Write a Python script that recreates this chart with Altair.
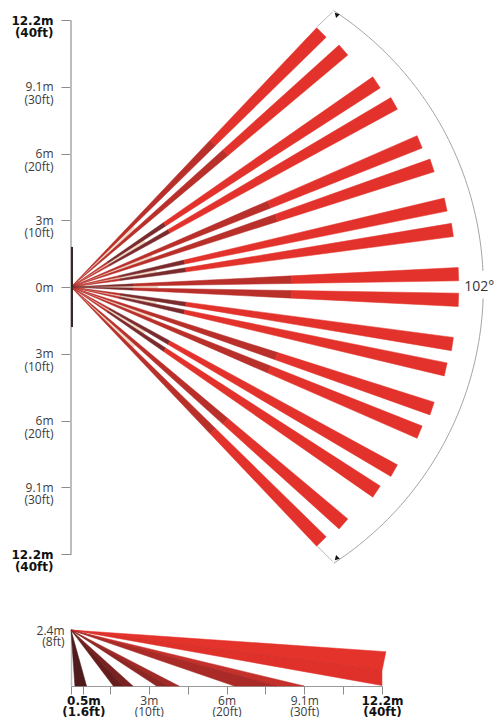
import math
import altair as alt
import pandas as pd

# ---- plan view (feet) ----
RED, BRICK, DARK = "#e3322b", "#b92f2a", "#7a2b2d"
beam_angles = [45.45, 41.0, 33.8, 29.6, 22.6, 18.6, 12.4, 8.5, 1.9]
beam_reach = [53.5, 54.1, 55.1, 55.7, 56.6, 57.1, 57.5, 57.8, 58.1]
beam_zones = [
    [(30.3, BRICK)],
    [(30.7, BRICK)],
    [(6.7, BRICK), (16.9, DARK)],
    [(6.7, BRICK), (16.9, DARK)],
    [(32.2, BRICK)],
    [(32.5, BRICK)],
    [(7.5, BRICK), (17.4, DARK)],
    [(7.5, BRICK), (17.4, DARK)],
    [(9.4, DARK), (33.1, BRICK)],
]
pale_pairs = [(45.45, 41.0), (33.8, 29.6), (22.6, 18.6), (12.4, 8.5), (1.9, -1.9)]
pale_reach = 13.0
tip_half_width = 1.0

plan_ticks = list(range(-40, 41, 5))
plan_labels = {0: ["0m"], 10: ["3m", "(10ft)"], 20: ["6m", "(20ft)"],
               30: ["9.1m", "(30ft)"], 40: ["12.2m", "(40ft)"]}
device_span = [-6.0, 6.0]
axis_span = [-40, 40]

arc_center = 12.4
arc_radius = 49.4
arc_limits = [(2.8, 56.9), (-56.9, -2.0)]
arrow_x = [39.85, 39.85]
arrow_y = [40.75, -40.6]
arrow_rot = [315, 225]
lead_x = [[36.9, 39.2], [36.9, 39.2]]
lead_y = [[39.0, 41.2], [-38.8, -41.1]]
angle_label = "102°"

# ---- side view (feet) ----
side_beams = [
    ("a", [(0, 8), (0.5, 0), (2.0, 0)], "#4e1a1c"),
    ("b1", [(0, 8), (5.44, 0), (6.7, 0)], "#671d1e"),
    ("b2", [(0, 8), (6.7, 0), (7.97, 0)], "#7a2221"),
    ("c1", [(0, 8), (11.0, 0), (12.5, 0)], "#8e2723"),
    ("c2", [(0, 8), (12.5, 0), (13.9, 0)], "#a12a26"),
    ("d1", [(0, 8), (21.0, 0), (26.4, 0)], "#a92a26"),
    ("d2", [(0, 8), (26.4, 0), (30.0, 0)], "#c4302b"),
    ("e1", [(0, 8), (40.0, 0.07), (40.0, 2.19)], "#df302a"),
    ("e2", [(0, 8), (40.0, 2.19), (40.5, 4.9)], "#e4332b"),
]
side_inner_x = [6.7, 12.5, 26.4, 40.0]
side_inner_y = [0, 0, 0, 2.19]
side_inner_c = ["#571a1b", "#7e2321", "#952622", "#c42d28"]
side_ticks = [0, 1.6, 5, 10, 15, 20, 25, 30, 35, 40]
side_labels = {1.6: ["0.5m", "(1.6ft)"], 10: ["3m", "(10ft)"], 20: ["6m", "(20ft)"],
               30: ["9.1m", "(30ft)"], 40: ["12.2m", "(40ft)"]}
height_label = {8: ["2.4m", "(8ft)"]}

PX_FT = 6.675
plan_w = round(61.0 * PX_FT)
plan_h = round(80 * PX_FT)


def polar(r, deg, off=0.0):
    a = math.radians(deg)
    return (r * math.cos(a) - off * math.sin(a), r * math.sin(a) + off * math.cos(a))


rows = []
pid = 0


def add(points, color):
    global pid
    for i, (x, y) in enumerate(points + [points[0]]):
        rows.append(dict(p=pid, o=i, x=x, y=y, c=color))
    pid += 1


for a1, a2 in pale_pairs:
    for s in (1, -1):
        if a2 < 0 and s < 0:
            continue
        add([(0, 0), polar(pale_reach, s * a1), polar(pale_reach, s * a2)], "#f1dccb")

for ang, reach, zones in zip(beam_angles, beam_reach, beam_zones):
    for s in (1, -1):
        start = 0.0
        for end, col in zones + [(reach, RED)]:
            h0 = tip_half_width * start / reach
            h1 = tip_half_width * end / reach
            add([polar(start, s * ang, h0), polar(end, s * ang, h1),
                 polar(end, s * ang, -h1), polar(start, s * ang, -h0)], col)
            start = end

plan_df = pd.DataFrame(rows)


def label_expr(labels, key="datum.value"):
    expr = "''"
    for v, lines in labels.items():
        arr = "[" + ",".join(f"'{t}'" for t in lines) + "]"
        expr = f"abs({key})=={v} ? {arr} : {expr}"
    return expr


x_plan = alt.X("x:Q", scale=alt.Scale(domain=[0, 61.0], nice=False, zero=False), axis=None)
y_plan = alt.Y(
    "y:Q",
    scale=alt.Scale(domain=[-40, 40], nice=False, zero=False),
    title=None,
    axis=alt.Axis(
        values=plan_ticks, grid=False, domain=False, tickSize=10, tickColor="#8a8a8a", tickWidth=1,
        labelExpr=label_expr(plan_labels), labelOverlap=False, labelPadding=8, labelAlign="right",
        labelFontSize=12, labelLineHeight=12.5, labelBound=False, labelFlush=False,
        labelFont=alt.expr("abs(datum.value)==40 ? 'DejaVu Sans' : 'Open Sans'"),
        labelFontWeight=alt.expr("abs(datum.value)==40 ? 'bold' : 'normal'"),
        labelColor=alt.expr("abs(datum.value)==40 ? '#111111' : '#3c3c3c'"),
    ),
)

polys = alt.Chart(plan_df).mark_line(strokeWidth=0.5, interpolate="linear").encode(
    x=x_plan,
    y=y_plan,
    order="o:Q",
    detail="p:N",
    fill=alt.Fill("c:N", scale=None),
    stroke=alt.Stroke("c:N", scale=None),
)

X = alt.X("x:Q", axis=None)
Y = alt.Y("y:Q", title=None)

axis_line = alt.Chart(pd.DataFrame({"y": [axis_span[0]], "y2": [axis_span[1]], "x": [0]})).mark_rule(
    color="#bdbdbd", strokeWidth=2).encode(x=X, y=Y, y2="y2:Q")
device = alt.Chart(pd.DataFrame({"y": [device_span[0]], "y2": [device_span[1]], "x": [0.15]})).mark_rule(
    color="#3b2528", strokeWidth=2).encode(x=X, y=Y, y2="y2:Q")

arc_rows = []
for k, (lo, hi) in enumerate(arc_limits):
    n = 50
    for i in range(n + 1):
        d = lo + (hi - lo) * i / n
        a = math.radians(d)
        arc_rows.append(dict(g=k, o=i, x=arc_center + arc_radius * math.cos(a), y=arc_radius * math.sin(a)))
arc = alt.Chart(pd.DataFrame(arc_rows)).mark_line(color="#9a9a9a", strokeWidth=0.9).encode(
    x=X, y=Y, order="o:Q", detail="g:N")

lead_rows = []
for k in range(2):
    for i in range(2):
        lead_rows.append(dict(g=k, o=i, x=lead_x[k][i], y=lead_y[k][i]))
leads = alt.Chart(pd.DataFrame(lead_rows)).mark_line(color="#b0b0b0", strokeWidth=0.9).encode(
    x=X, y=Y, order="o:Q", detail="g:N")

arrows = alt.Chart(pd.DataFrame({"x": arrow_x, "y": arrow_y, "r": arrow_rot})).mark_point(
    shape="triangle", filled=True, color="#111111", size=28, opacity=1).encode(
    x=X, y=Y, angle=alt.Angle("r:Q", scale=None))

deg = alt.Chart(pd.DataFrame({"x": [61.2], "y": [0], "t": [angle_label]})).mark_text(
    font="Open Sans", fontSize=14, color="#333333", align="center", baseline="middle").encode(
    x=X, y=Y, text="t:N")

plan = alt.layer(polys, axis_line, device, arc, leads, arrows, deg).properties(width=plan_w, height=plan_h)

# ---- side panel ----
s_rows = []
for name, pts, col in side_beams:
    for i, (x, y) in enumerate(pts + [pts[0]]):
        s_rows.append(dict(p=name, o=i, x=x, y=y, c=col))
for k, (x, y, c) in enumerate(zip(side_inner_x, side_inner_y, side_inner_c)):
    s_rows.append(dict(p=f"line{k}", o=0, x=0, y=8, c=c))
    s_rows.append(dict(p=f"line{k}", o=1, x=x, y=y, c=c))
side_df = pd.DataFrame(s_rows)

side = alt.Chart(side_df).mark_line(strokeWidth=0.5, interpolate="linear").encode(
    x=alt.X("x:Q", scale=alt.Scale(domain=[0, 40], nice=False, zero=False), title=None,
            axis=alt.Axis(values=side_ticks, grid=False, tickSize=8, tickColor="#8a8a8a", tickWidth=1,
                          domainColor="#9a9a9a", domainWidth=1,
                          labelExpr=label_expr(side_labels), labelOverlap=False, labelPadding=1,
                          labelFontSize=12, labelLineHeight=11, labelAlign="center", labelFlush=False,
                          labelBound=False,
                          labelFont=alt.expr("datum.value==40||datum.value==1.6 ? 'DejaVu Sans' : 'Open Sans'"),
                          labelFontWeight=alt.expr("datum.value==40||datum.value==1.6 ? 'bold' : 'normal'"),
                          labelColor=alt.expr("datum.value==40||datum.value==1.6 ? '#111111' : '#3c3c3c'"))),
    y=alt.Y("y:Q", scale=alt.Scale(domain=[0, 8], nice=False, zero=False), title=None,
            axis=alt.Axis(values=[8], grid=False, tickSize=0, domainColor="#bdbdbd", domainWidth=1.5,
                          labelExpr=label_expr(height_label), labelPadding=7, labelFontSize=12,
                          labelLineHeight=11, labelFont="Open Sans", labelColor="#3c3c3c",
                          labelBound=False, labelFlush=False)),
    order="o:Q",
    detail="p:N",
    fill=alt.Fill("c:N", scale=None),
    stroke=alt.Stroke("c:N", scale=None),
).properties(width=311, height=56)

chart = alt.vconcat(plan, side, spacing=51).properties(
    padding={"left": 2, "top": 0, "right": 0, "bottom": 0}, background="white"
).configure_view(stroke=None)

chart.save("out.html", embed_options={"renderer": "svg", "actions": False})
